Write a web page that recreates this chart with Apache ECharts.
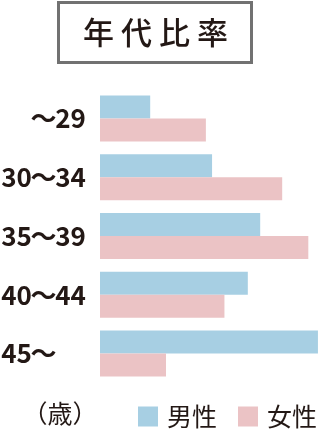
<!DOCTYPE html>
<html>
<head>
<meta charset="utf-8">
<script src="https://cdn.jsdelivr.net/npm/echarts@6/dist/echarts.min.js"></script>
<style>
    html,body{margin:0;padding:0;background:#fff;}
    #chart{width:320px;height:430px;}
</style>
</head>
<body>
<div id="chart"></div>
<script>
// 年代カテゴリ
var categories=['～29','30～34','35～39','40～44','45～'];
// 男性・女性 (%)
var male=[7.3,16.3,23.3,21.5,31.7];
var female=[15.4,26.5,30.3,18.1,9.6];
var seriesNames=['男性','女性'];

var textColor='#231815';
var chart=echarts.init(document.getElementById('chart'));

// 「～」の位置を揃える
function ageLabel(value) {
    var parts=value.split('～');
    return '{a|'+(parts[0]||' ')+'}{b|～}{c|'+(parts[1]||' ')+'}';
}

var labelFont={
    color:textColor,
    fontSize:26,
    fontWeight:'bold',
    fontFamily:'Noto Sans CJK JP'
};

var option={
    animation:false,
    title:{
        text:'年 代 比 率',
        left:58,
        top:2,
        padding:[15,24,15,25],
        borderColor:'#717171',
        borderWidth:3,
        textStyle:{
            color:textColor,
            fontSize:31,
            fontWeight:500,
            fontFamily:'Noto Sans CJK JP'
        }
    },
    color:['#a7cfe3','#ebc3c5'],
    legend:{
        data:seriesNames,
        left:138,
        top:404,
        padding:0,
        icon:'rect',
        itemWidth:20,
        itemHeight:20,
        itemGap:21,
        textStyle:{
            color:textColor,
            fontSize:25,
            fontFamily:'Noto Sans CJK JP',
            padding:[0,0,0,4]
        }
    },
    graphic:[{
        type:'text',
        x:60,
        y:413,
        style:{
            text:'（歳）',
            fill:textColor,
            fontSize:25,
            fontFamily:'Noto Sans CJK JP',
            textAlign:'center',
            textVerticalAlign:'middle'
        }
    }],
    grid:{left:100,width:220,top:89,height:294,outerBoundsMode:'none'},
    xAxis:{
        type:'value',
        min:0,
        max:32,
        show:false
    },
    yAxis:{
        type:'category',
        inverse:true,
        data:categories,
        axisLine:{show:false},
        axisTick:{show:false},
        axisLabel:{
            margin:15,
            align:'right',
            formatter:ageLabel,
            rich:{
                a:Object.assign({width:29,align:'right'},labelFont),
                b:Object.assign({width:25,align:'center'},labelFont),
                c:Object.assign({width:29,align:'left'},labelFont)
            }
        }
    },
    series:[{
        name:seriesNames[0],
        type:'bar',
        data:male,
        barWidth:23,
        barGap:'0%'
    },{
        name:seriesNames[1],
        type:'bar',
        data:female,
        barWidth:23,
        barGap:'0%'
    }]
};
chart.setOption(option);
</script>
</body>
</html>
